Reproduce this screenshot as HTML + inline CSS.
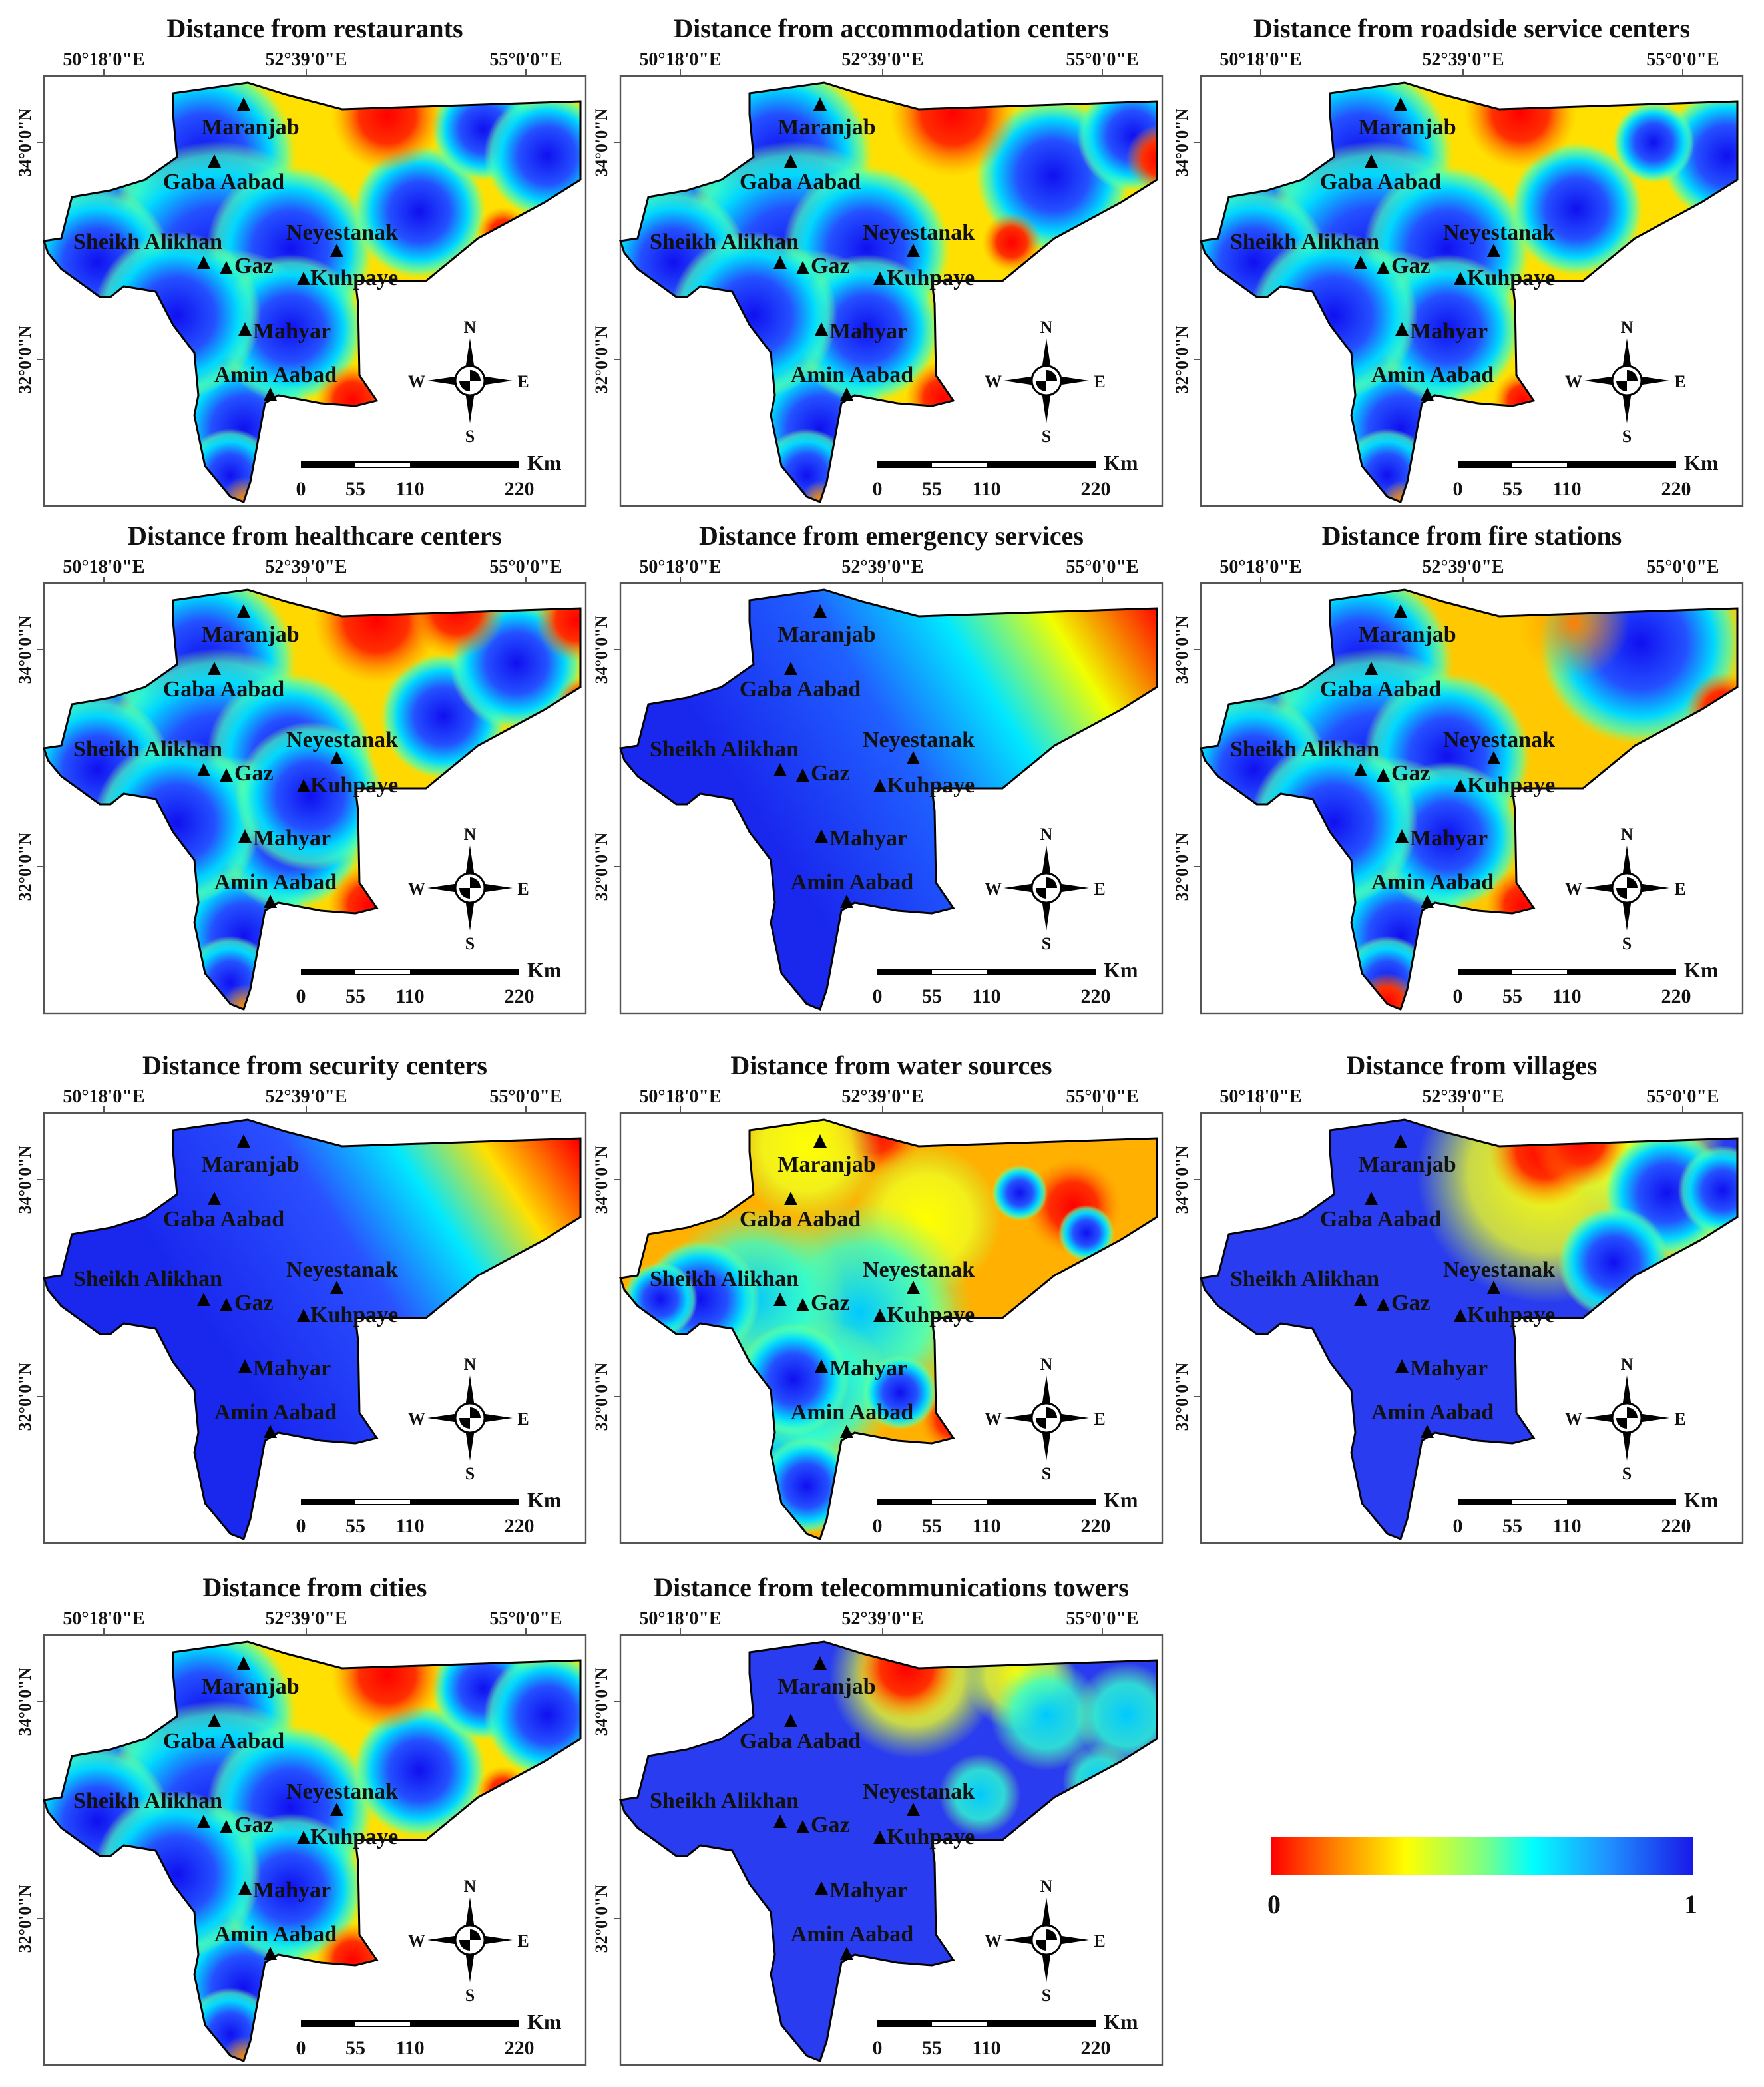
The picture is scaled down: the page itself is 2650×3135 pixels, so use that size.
<!DOCTYPE html>
<html><head><meta charset="utf-8"><style>
html,body{margin:0;padding:0;background:#fff;}
svg{display:block;}
text{font-family:"Liberation Serif",serif;font-weight:bold;fill:#111;}
</style></head><body>
<svg id="fig" width="2650" height="3135" viewBox="0 0 1325 1567.5" xmlns="http://www.w3.org/2000/svg">
<defs>
<radialGradient id="gB"><stop offset="0" stop-color="#1010f0"/><stop offset="0.45" stop-color="#2450ff"/><stop offset="0.72" stop-color="#00d8ff"/><stop offset="0.88" stop-color="#40ffc0" stop-opacity="0.7"/><stop offset="1" stop-color="#a0ff60" stop-opacity="0"/></radialGradient>
<radialGradient id="gC"><stop offset="0" stop-color="#00c8ff"/><stop offset="0.6" stop-color="#30ffd0" stop-opacity="0.8"/><stop offset="1" stop-color="#80ff80" stop-opacity="0"/></radialGradient>
<radialGradient id="gR"><stop offset="0" stop-color="#ff0000"/><stop offset="0.5" stop-color="#ff3000"/><stop offset="1" stop-color="#ff9000" stop-opacity="0"/></radialGradient>
<radialGradient id="gY"><stop offset="0" stop-color="#ffff00"/><stop offset="0.6" stop-color="#f0ff20" stop-opacity="0.8"/><stop offset="1" stop-color="#c0ff40" stop-opacity="0"/></radialGradient>
<radialGradient id="gO"><stop offset="0" stop-color="#ff8000"/><stop offset="1" stop-color="#ffa000" stop-opacity="0"/></radialGradient>
<linearGradient id="lg5" gradientUnits="userSpaceOnUse" x1="120" y1="200" x2="407" y2="20"><stop offset="0" stop-color="#1a28ee"/><stop offset="0.35" stop-color="#2060ff"/><stop offset="0.58" stop-color="#00e8ff"/><stop offset="0.78" stop-color="#f0ff00"/><stop offset="1" stop-color="#ff0000"/></linearGradient>
<linearGradient id="lg7" gradientUnits="userSpaceOnUse" x1="150" y1="200" x2="407" y2="30"><stop offset="0" stop-color="#1a28ee"/><stop offset="0.4" stop-color="#2a50ff"/><stop offset="0.62" stop-color="#00e8ff"/><stop offset="0.8" stop-color="#ffe000"/><stop offset="1" stop-color="#ff0000"/></linearGradient>
<linearGradient id="cbar" x1="0" x2="1" y1="0" y2="0"><stop offset="0" stop-color="#ff0000"/><stop offset="0.15" stop-color="#ff8000"/><stop offset="0.32" stop-color="#ffff00"/><stop offset="0.5" stop-color="#80ff80"/><stop offset="0.62" stop-color="#00ffff"/><stop offset="0.8" stop-color="#2090ff"/><stop offset="1" stop-color="#1818e8"/></linearGradient>
</defs>
</svg>
<script>
const panelTitles=["Distance from restaurants","Distance from accommodation centers","Distance from roadside service centers","Distance from healthcare centers","Distance from emergency services","Distance from fire stations","Distance from security centers","Distance from water sources","Distance from villages","Distance from cities","Distance from telecommunications towers"];
const panelNames=["restaurants","accommodation","roadside","healthcare","emergency","fire","security","water","villages","cities","telecom"];
const panelBase=["#ffe000","#ffe000","#ffe000","#ffd800","url(#lg5)","#ffc800","url(#lg7)","#ffb000","#2a3cf0","#ffe000","#2a3cf0"];
const lonLabels=["50°18'0\"E","52°39'0\"E","55°0'0\"E"];
const latLabels=["34°0'0\"N","32°0'0\"N"];
const scaleLabels=["0","55","110","220"];
const cityNames=["Maranjab","Gaba Aabad","Neyestanak","Sheikh Alikhan","Gaz","Kuhpaye","Mahyar","Amin Aabad"];
const west=[["b",60,130,55],["b",120,60,50],["b",130,140,65],["b",185,130,45],["b",140,200,50],["b",150,265,38],["b",185,190,40],["b",40,140,40],["b",100,180,45],["b",140,300,25]];
const panelBlobs=[
 west.concat([["b",282,102,36],["b",330,40,28],["b",378,60,34],["r",258,30,30],["r",345,118,14],["r",232,244,20],["o",150,318,12]]),
 west.concat([["b",325,75,42],["b",385,45,30],["r",250,28,34],["r",405,62,18],["r",294,125,16],["r",242,242,20],["o",150,318,10]]),
 west.concat([["b",282,100,36],["b",395,60,36],["b",340,50,22],["r",240,28,30],["r",405,100,12],["r",242,244,16],["o",150,318,10]]),
 west.concat([["b",200,160,40],["b",300,100,34],["b",355,60,36],["r",250,28,34],["r",310,20,26],["r",400,28,22],["r",405,90,14],["r",244,242,22],["o",150,318,12]]),
 [],
 west.concat([["b",330,45,55],["r",392,95,20],["r",242,242,20],["r",140,315,16],["o",280,30,30]]),
 [],
 [["r",190,10,28],["r",250,230,18],["r",340,70,26],["y",140,25,40],["y",230,80,40],["y",210,150,30],["c",180,150,60],["c",100,140,50],["c",120,250,40],["c",150,210,40],["b",60,140,32],["b",130,200,30],["b",140,280,26],["b",210,210,20],["b",300,60,15],["b",350,90,15],["b",30,140,20]],
 [["y",260,45,70],["y",380,100,35],["y",330,20,45],["r",258,28,30],["r",285,20,26],["r",402,112,14],["b",350,60,34],["b",310,112,30],["b",392,58,24]],
 west.concat([["b",282,102,36],["b",330,40,28],["b",378,60,34],["r",258,30,30],["r",345,118,14],["r",232,244,20],["o",150,318,12]]),
 [["y",220,30,45],["y",300,30,30],["r",215,25,28],["c",320,60,30],["c",380,60,28],["c",270,120,22],["c",360,110,20]]
];
const cols=[33,466,902], rows=[57,438,836,1228], FW=407, FH=323;
const outline=[[97,13],[153,5],[182,14],[224,25],[403,19],[403,78],[376,95],[326,122],[287,154],[234,154],[236,171],[237,225],[250,244],[234,248],[208,246],[176,240],[166,246],[155,305],[150,320],[140,316],[121,293],[113,255],[116,240],[113,208],[97,187],[84,162],[60,158],[50,166],[42,166],[13,145],[3,133],[0,124],[13,122],[21,91],[50,86],[76,78],[100,61],[97,29]];
const cityTri=[[150,22],[128,65],[220,132],[120,141],[137,145],[195,153],[151,191],[170,240]];
const cityLab=[[155,44,"middle"],[135,85,"middle"],[224,123,"middle"],[78,130,"middle"],[143,148,"start"],[200,157,"start"],[157,197,"start"],[174,230,"middle"]];
const NS="http://www.w3.org/2000/svg";
const svg=document.getElementById("fig");
function mk(tag,attrs,parent){const e=document.createElementNS(NS,tag);for(const k in attrs)e.setAttribute(k,attrs[k]);(parent||svg).appendChild(e);return e;}
const gradOf={b:"url(#gB)",c:"url(#gC)",r:"url(#gR)",y:"url(#gY)",o:"url(#gO)"};
const pts=outline.map(p=>p.join(",")).join(" ");
panelTitles.forEach((title,i)=>{
  const ox=cols[i%3], oy=rows[Math.floor(i/3)];
  const g=mk("g",{transform:`translate(${ox},${oy})`});
  
  
  const t=mk("text",{x:FW/2,y:-29,"text-anchor":"middle","font-size":20},g);t.textContent=title;
  
  
  const fr=mk("rect",{x:0,y:0,width:FW,height:FH,fill:"#fff",stroke:"#555","stroke-width":1.2},g);
  
  
  [45,197,362].forEach((x,k)=>{mk("line",{x1:x,y1:0,x2:x,y2:-5,stroke:"#555"},g);
    const l=mk("text",{x:x,y:-8,"text-anchor":"middle","font-size":14},g);l.textContent=lonLabels[k];
    
    });
  [50,213].forEach((y,k)=>{mk("line",{x1:0,y1:y,x2:-5,y2:y,stroke:"#555"},g);
    const l=mk("text",{x:0,y:0,"text-anchor":"middle","font-size":13,transform:`translate(-10,${y}) rotate(-90)`},g);l.textContent=latLabels[k];
    
    });
  const cid="clip"+i;
  const cp=mk("clipPath",{id:cid},g);mk("polygon",{points:pts},cp);
  const mg=mk("g",{"clip-path":`url(#${cid})`},g);
  
  
  mk("rect",{x:0,y:0,width:FW,height:FH,fill:panelBase[i]},mg);
  panelBlobs[i].forEach(b=>{const c=mk("circle",{cx:b[1],cy:b[2],r:b[3]*1.4,fill:gradOf[b[0]]},mg);
    
    });
  const ol=mk("polygon",{points:pts,fill:"none",stroke:"#000","stroke-width":1.5},g);
  
  
  cityNames.forEach((n,k)=>{const [tx,ty]=cityTri[k];
    const tr=mk("polygon",{points:`${tx},${ty-6} ${tx-5},${ty+4} ${tx+5},${ty+4}`,fill:"#000"},g);
    
    
    const [lx,ly,an]=cityLab[k];
    const l=mk("text",{x:lx,y:ly,"text-anchor":an,"font-size":17},g);l.textContent=n;
    
    });
  const cg=mk("g",{transform:"translate(320,229)"},g);
  
  
  mk("polygon",{points:"0,-32 4,-5 0,0 -4,-5",fill:"#000"},cg);
  mk("polygon",{points:"0,32 -4,5 0,0 4,5",fill:"#000"},cg);
  mk("polygon",{points:"-32,0 -5,-4 0,0 -5,4",fill:"#000"},cg);
  mk("polygon",{points:"32,0 5,4 0,0 5,-4",fill:"#000"},cg);
  mk("circle",{cx:0,cy:0,r:11,fill:"#fff",stroke:"#000","stroke-width":1.5},cg);
  mk("path",{d:"M0,0 L0,-8 A8,8 0 0 1 8,0 Z M0,0 L0,8 A8,8 0 0 1 -8,0 Z",fill:"#000"},cg);
  [["N",0,-36],["S",0,46],["W",-40,5],["E",40,5]].forEach(d=>{const l=mk("text",{x:d[1],y:d[2],"text-anchor":"middle","font-size":13,"font-weight":"normal"},cg);l.textContent=d[0];});
  const sg=mk("g",{},g);
  
  
  mk("rect",{x:193,y:289.5,width:164,height:5,fill:"#000"},sg);
  mk("rect",{x:234,y:290.5,width:41,height:3,fill:"#fff"},sg);
  const km=mk("text",{x:363,y:296,"font-size":16},sg);km.textContent="Km";
  [193,234,275,357].forEach((x,k)=>{const l=mk("text",{x:x,y:315,"text-anchor":"middle","font-size":15},sg);l.textContent=scaleLabels[k];});
});
const cb=mk("rect",{x:955,y:1380,width:317,height:28,fill:"url(#cbar)"});


const c0=mk("text",{x:957,y:1437,"text-anchor":"middle","font-size":20});c0.textContent="0";


const c1=mk("text",{x:1270,y:1437,"text-anchor":"middle","font-size":20});c1.textContent="1";


</script>
</body></html>
